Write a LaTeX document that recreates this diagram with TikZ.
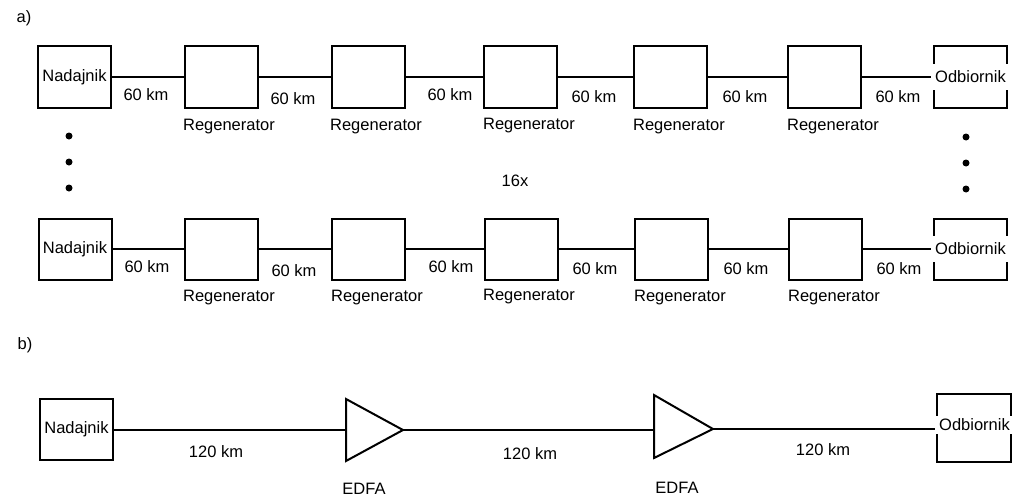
\documentclass[tikz,border=0pt]{standalone}
\usepackage{fontspec}
\setmainfont{Liberation Sans}

\newcommand{\napis}{\fontsize{16.5}{18}\selectfont}

\tikzset{
    blok/.style={draw, minimum width=73pt, minimum height=61pt, inner sep=0pt, font=\napis},
    odbior/.style={fill=white, inner sep=0pt, minimum width=78pt, minimum height=26pt, font=\napis},
    opis/.style={inner sep=0pt, font=\napis},
}

\begin{document}
\begin{tikzpicture}[x=1pt, y=-1pt, line width=2pt]
    \useasboundingbox (0,0) rectangle (1028,503);
    % a) 16 linii z regeneratorami
    \node[opis] (a) at (24,18) {a)};
    \begin{scope}
        \node[blok] (na) at (74.5,77) {Nadajnik};
        \node[blok] (ra1) at (221.5,77) {};
        \node[blok] (ra2) at (368.5,77) {};
        \node[blok] (ra3) at (520.5,77) {};
        \node[blok] (ra4) at (670.5,77) {};
        \node[blok] (ra5) at (824.5,77) {};
        \node[blok] (oa) at (970.5,77) {};
        \node[odbior] (toa) at (970.5,77) {Odbiornik};
        \draw (na) -- (ra1) -- (ra2) -- (ra3) -- (ra4) -- (ra5) -- (toa);
        \node[opis] (ka1) at (146,95) {60 km};
        \node[opis] (ka2) at (293,99) {60 km};
        \node[opis] (ka3) at (450,95) {60 km};
        \node[opis] (ka4) at (594,97) {60 km};
        \node[opis] (ka5) at (745,97) {60 km};
        \node[opis] (ka6) at (898,97) {60 km};
        \node[opis] (ga1) at (229,127) {Regenerator};
        \node[opis] (ga2) at (376,127) {Regenerator};
        \node[opis] (ga3) at (529,126) {Regenerator};
        \node[opis] (ga4) at (679,127) {Regenerator};
        \node[opis] (ga5) at (833,127) {Regenerator};
    \end{scope}
    % kropki
    \fill (69,136) circle (3.5pt);
    \fill (69,162) circle (3.5pt);
    \fill (69,188) circle (3.5pt);
    \fill (966,137) circle (3.5pt);
    \fill (966,163) circle (3.5pt);
    \fill (966,189) circle (3.5pt);
    \node[opis] (x16) at (515,181) {16x};
    \begin{scope}[shift={(0,172)}]
        \node[blok] (nb) at (75,77) {Nadajnik};
        \node[blok] (rb1) at (221.5,77) {};
        \node[blok] (rb2) at (368.5,77) {};
        \node[blok] (rb3) at (521,77) {};
        \node[blok] (rb4) at (671,77) {};
        \node[blok] (rb5) at (825,77) {};
        \node[blok] (ob) at (970.5,77) {};
        \node[odbior] (tob) at (970.5,77) {Odbiornik};
        \draw (nb) -- (rb1) -- (rb2) -- (rb3) -- (rb4) -- (rb5) -- (tob);
        \node[opis] (kb1) at (147,95) {60 km};
        \node[opis] (kb2) at (294,99) {60 km};
        \node[opis] (kb3) at (451,95) {60 km};
        \node[opis] (kb4) at (595,97) {60 km};
        \node[opis] (kb5) at (746,97) {60 km};
        \node[opis] (kb6) at (899,97) {60 km};
        \node[opis] (gb1) at (229,126) {Regenerator};
        \node[opis] (gb2) at (377,126) {Regenerator};
        \node[opis] (gb3) at (529,125) {Regenerator};
        \node[opis] (gb4) at (680,126) {Regenerator};
        \node[opis] (gb5) at (834,126) {Regenerator};
    \end{scope}
    % b) linia ze wzmacniaczami EDFA
    \node[opis] (b) at (25,345) {b)};
    \node[blok] (nc) at (76.5,429) {Nadajnik};
    \coordinate (e1we) at (346,430);
    \coordinate (e1wy) at (403,430);
    \draw (346,399) -- (e1wy) -- (346,461) -- cycle;
    \coordinate (e2we) at (654,430);
    \coordinate (e2wy) at (713,429);
    \draw (654,395) -- (e2wy) -- (654,458) -- cycle;
    \node[blok, minimum width=74pt, minimum height=68pt] (oc) at (974,428) {};
    \node[odbior, minimum height=18pt] (toc) at (974.5,425) {Odbiornik};
    \draw (nc.east |- e1we) -- (e1we);
    \draw (e1wy) -- (e2we);
    \draw (e2wy) -- (e2wy -| toc.west);
    \node[opis] (kc1) at (216,452) {120 km};
    \node[opis] (kc2) at (530,454) {120 km};
    \node[opis] (kc3) at (823,450) {120 km};
    \node[opis] (ed1) at (364,489) {EDFA};
    \node[opis] (ed2) at (677,488) {EDFA};
\end{tikzpicture}
\end{document}
